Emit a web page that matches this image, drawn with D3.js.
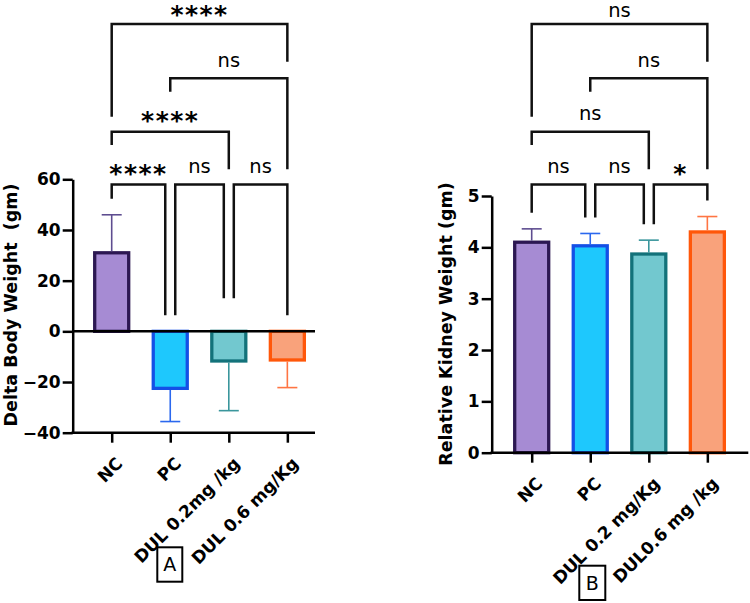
<!DOCTYPE html>
<html>
<head>
<meta charset="utf-8">
<script src="https://cdn.jsdelivr.net/npm/d3@7"></script>
<style>
  body { margin: 0; background: #fff; }
  text { font-family: "DejaVu Sans", sans-serif; }
</style>
</head>
<body>
<script>
// ---- data: panel A (delta body weight) ----
const groupsA = ["NC", "PC", "DUL 0.2mg /kg", "DUL 0.6 mg/Kg"];
const meansA = [31, -22.5, -11.7, -11.3];
const errsA = [15, 13.1, 19.6, 10.9];
const ticksA = [-40, -20, 0, 20, 40, 60];
// [group a, group b, label]
const compsA = [[0, 1, "****"], [1, 2, "ns"], [2, 3, "ns"], [0, 2, "****"], [1, 3, "ns"], [0, 3, "****"]];

// ---- data: panel B (relative kidney weight) ----
const groupsB = ["NC", "PC", "DUL 0.2 mg/Kg", "DUL0.6 mg /kg"];
const meansB = [4.10, 4.03, 3.87, 4.30];
const errsB = [0.26, 0.24, 0.27, 0.30];
const ticksB = [0, 1, 2, 3, 4, 5];
const compsB = [[0, 1, "ns"], [1, 2, "ns"], [2, 3, "*"], [0, 2, "ns"], [1, 3, "ns"], [0, 3, "ns"]];

// styles per group
const fills = ["#a68bd3", "#1ec8fd", "#72c8cf", "#f9a27b"];
const strokes = ["#2c1752", "#1450e6", "#13727a", "#ff570a"];
const errCols = ["#5e4d90", "#2b68ee", "#3a969c", "#ff7543"];

const svg = d3.select("body").append("svg")
    .attr("width", 750).attr("height", 603);

// bracket layout (pixels) shared by both panels
const tierOf = [0, 0, 0, 1, 2, 3];
const tierY = [184.5, 131.7, 78.3, 24];
const labelLift = [11.5, 11.5, 11.5, 9.5];
const legDrop = [null, [13.3, 37.6], [13.4, 91], [92.7, 37.7]];

function drawPanel(p) {
    const g = svg.append("g");
    const y = d3.scaleLinear().domain(p.domain).range([p.bottom, p.top]);
    const x = d3.scalePoint().domain(p.groups)
        .range([p.left + p.firstOffset, p.left + p.firstOffset + 3 * p.step]);
    const bw = 34;

    // bars
    p.groups.forEach(function (grp, i) {
        const v = p.means[i];
        const y0 = y(0), y1 = y(v);
        g.append("rect")
            .attr("x", x(grp) - bw / 2).attr("width", bw)
            .attr("y", Math.min(y0, y1)).attr("height", Math.abs(y0 - y1))
            .attr("fill", fills[i]).attr("stroke", strokes[i]).attr("stroke-width", 3.3);
        // error bar away from zero
        const ve = v >= 0 ? v + p.errs[i] : v - p.errs[i];
        const yb = v >= 0 ? y1 - 1.6 : y1 + 1.6;
        g.append("line").attr("x1", x(grp)).attr("x2", x(grp))
            .attr("y1", yb).attr("y2", y(ve))
            .attr("stroke", errCols[i]).attr("stroke-width", 1.6);
        g.append("line").attr("x1", x(grp) - 10).attr("x2", x(grp) + 10)
            .attr("y1", y(ve)).attr("y2", y(ve))
            .attr("stroke", errCols[i]).attr("stroke-width", 1.6);
    });

    // zero line when the axis goes negative
    if (p.domain[0] < 0) {
        g.append("line").attr("x1", p.left).attr("x2", p.right)
            .attr("y1", y(0)).attr("y2", y(0))
            .attr("stroke", "#000").attr("stroke-width", 2.5);
    }

    // y axis
    const ya = g.append("g").attr("transform", "translate(" + p.left + ",0)")
        .call(d3.axisLeft(y).tickValues(p.ticks).tickFormat(d3.format("d"))
            .tickSize(10).tickSizeOuter(0).tickPadding(2));
    ya.selectAll("path, line").attr("stroke", "#000").attr("stroke-width", 2.5);
    ya.selectAll("text").attr("font-family", "DejaVu Sans").attr("font-weight", "bold")
        .attr("font-size", 17).attr("fill", "#000");

    // x axis
    g.append("line").attr("x1", p.left - 1.25).attr("x2", p.right)
        .attr("y1", p.bottom).attr("y2", p.bottom)
        .attr("stroke", "#000").attr("stroke-width", 2.5);
    const xa = g.append("g").attr("transform", "translate(0," + p.bottom + ")")
        .call(d3.axisBottom(x).tickSize(10).tickFormat(""));
    xa.select(".domain").remove();
    xa.selectAll("line").attr("stroke", "#000").attr("stroke-width", 2.5);

    p.groups.forEach(function (grp) {
        g.append("text")
            .attr("transform", "translate(" + (x(grp) + 12) + "," + (p.bottom + 32) + ") rotate(-45)")
            .attr("text-anchor", "end").attr("font-weight", "bold").attr("font-size", 17)
            .text(grp);
    });

    // y title
    g.append("text")
        .attr("transform", "translate(" + p.titleX + "," + p.titleY + ") rotate(-90)")
        .attr("text-anchor", "middle").attr("font-weight", "bold").attr("font-size", 17.5)
        .attr("xml:space", "preserve")
        .text(p.title);

    // significance brackets
    function legEnd(i) {
        const top = p.means[i] >= 0 ? p.means[i] + p.errs[i] : 0;
        return y(top) - p.legGap[i];
    }
    p.comps.forEach(function (c, k) {
        const t = tierOf[k];
        let x1 = x(p.groups[c[0]]), x2 = x(p.groups[c[1]]);
        let e1, e2;
        if (t === 0) {
            if (c[0] > 0) x1 += 5;
            if (c[1] < p.groups.length - 1) x2 -= 5;
            e1 = legEnd(c[0]);
            e2 = legEnd(c[1]);
        } else {
            e1 = tierY[t] + legDrop[t][0];
            e2 = tierY[t] + legDrop[t][1];
        }
        g.append("path")
            .attr("d", "M" + x1 + "," + e1 + "V" + tierY[t] + "H" + x2 + "V" + e2)
            .attr("fill", "none").attr("stroke", "#111").attr("stroke-width", 2.5);
        const star = c[2].indexOf("*") >= 0;
        // top "ns" sits a little lower so it stays inside the page
        const lift = (!star && t === 3) ? 7 : labelLift[t];
        g.append("text")
            .attr("x", (x1 + x2) / 2).attr("y", tierY[t] - lift)
            .attr("dy", star ? "0.34em" : 0)
            .attr("text-anchor", "middle")
            .attr("font-weight", star ? "bold" : "normal")
            .attr("font-size", star ? 25 : 19.5)
            .attr("letter-spacing", star ? 1.5 : 0)
            .text(c[2]);
    });

    // panel letter box
    g.append("rect").attr("x", p.box[0]).attr("y", p.box[1])
        .attr("width", p.box[2]).attr("height", p.box[3])
        .attr("fill", "none").attr("stroke", "#000").attr("stroke-width", 2);
    g.append("text").attr("x", p.box[0] + p.box[2] / 2).attr("y", p.box[1] + p.box[3] / 2)
        .attr("dy", "0.36em").attr("text-anchor", "middle").attr("font-size", 19)
        .text(p.letter);
}

drawPanel({
    groups: groupsA, means: meansA, errs: errsA, ticks: ticksA, comps: compsA,
    domain: [-40, 60], left: 72.7, right: 315, top: 179.3, bottom: 432.7,
    firstOffset: 39, step: 58.55, legGap: [16, 16, 33, 16],
    title: "Delta Body Weight  (gm)", titleX: 16.5, titleY: 305,
    box: [157.3, 547.3, 25, 34.4], letter: "A"
});

drawPanel({
    groups: groupsB, means: meansB, errs: errsB, ticks: ticksB, comps: compsB,
    domain: [0, 5], left: 491.7, right: 748.3, top: 196, bottom: 452.7,
    firstOffset: 40, step: 58.55, legGap: [16, 16, 16, 16],
    title: "Relative Kidney Weight (gm)", titleX: 451.5, titleY: 324,
    box: [579.3, 565.7, 26, 34.3], letter: "B"
});
</script>
</body>
</html>
